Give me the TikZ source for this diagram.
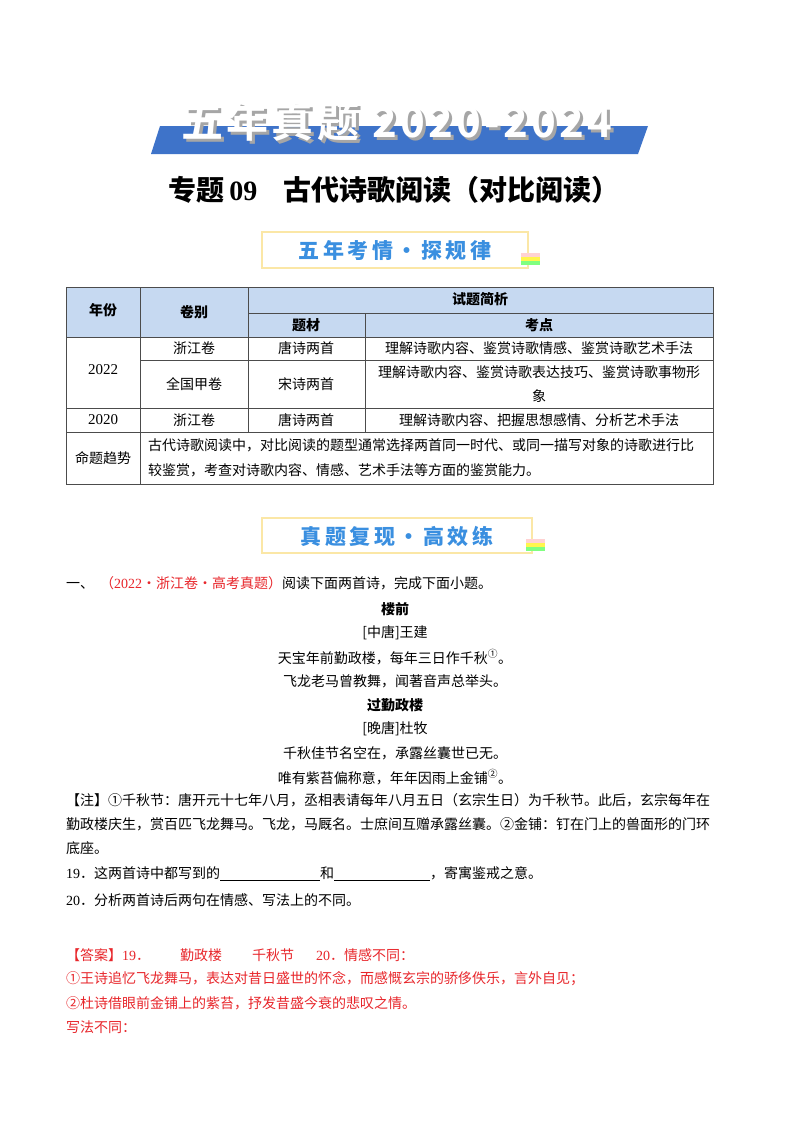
\documentclass[tikz,border=0pt]{standalone}
\usepackage{fontspec}
\setmainfont{Noto Sans CJK SC}
\newfontfamily\numf{Liberation Serif}
\newfontfamily\banf[LetterSpace=8]{Noto Sans CJK SC Bold}
\definecolor{band}{HTML}{3E73C9}
\definecolor{hdr}{HTML}{C6D9F1}
\definecolor{boxb}{HTML}{FBE7A6}
\definecolor{ttl}{HTML}{3A8FE0}
\definecolor{ans}{HTML}{E8262B}
\tikzset{
 body/.style={anchor=west,inner sep=0pt,font=\fontsize{14}{14}\selectfont},
 pc/.style={inner sep=0pt,font=\fontsize{14}{14}\selectfont},
 tb/.style={inner sep=0pt,font=\fontsize{14}{14}\selectfont},
 tl/.style={line width=0.6pt,draw=black!70},
 sbox/.style={draw=boxb,line width=1.2pt,fill=white},
}
\begin{document}
\begin{tikzpicture}[x=1pt,y=-1pt]
\useasboundingbox (0,0) rectangle (800,1132);
\fill[white] (0,0) rectangle (800,1132);
% banner
\fill[band] (160,126) -- (648,126) -- (638,154) -- (151,154) -- cycle;
\node[inner sep=0pt,text=black!35,font=\banf\fontsize{42}{42}\selectfont] at (400,124) {五年真题 2020-2024};
\node[inner sep=0pt,text=white,font=\banf\fontsize{42}{42}\selectfont] (ban) at (397,121) {五年真题 2020-2024};
\node[inner sep=0pt,font=\bfseries\fontsize{28}{28}\selectfont] (tit) at (394,190) {专题\,{\numf\bfseries 09}\hspace{26pt}古代诗歌阅读（对比阅读）};
% box 1
\draw[sbox] (262,232) rectangle (528,268);
\node[inner sep=0pt,text=ttl,font=\bfseries\fontsize{21}{21}\selectfont] (b1) at (395,250) {五\,年\,考\,情\,·\,探\,规\,律};
\foreach \c/\yy in {green!50/265,yellow!70/261,pink!70/257}{\fill[\c] (521,\yy) rectangle (540,\yy-4);}
% table
\fill[hdr] (66,287) rectangle (713,337);
\draw[tl] (66,287) rectangle (713,484);
\draw[tl] (140,287) -- (140,484);
\draw[tl] (248,287) -- (248,432);
\draw[tl] (365,313) -- (365,432);
\draw[tl] (248,313) -- (713,313);
\draw[tl] (66,337) -- (713,337);
\draw[tl] (140,360) -- (713,360);
\draw[tl] (66,408) -- (713,408);
\draw[tl] (66,432) -- (713,432);
\begin{scope}[every node/.style={tb}]
\node[font=\bfseries\fontsize{14}{14}\selectfont] (h1) at (103,310) {年份};
\node[font=\bfseries\fontsize{14}{14}\selectfont] (h2) at (194,312) {卷别};
\node[font=\bfseries\fontsize{14}{14}\selectfont] (h3) at (480,299) {试题简析};
\node[font=\bfseries\fontsize{14}{14}\selectfont] (h4) at (306,325) {题材};
\node[font=\bfseries\fontsize{14}{14}\selectfont] (h5) at (539,325) {考点};
\node (y1) at (103,370) {\numf\fontsize{15}{15}\selectfont 2022};
\node (a1) at (194,348) {浙江卷};
\node (a2) at (306,348) {唐诗两首};
\node (a3) at (539,348) {理解诗歌内容、鉴赏诗歌情感、鉴赏诗歌艺术手法};
\node (b2) at (194,384) {全国甲卷};
\node (b3) at (306,384) {宋诗两首};
\node (b4) at (539,372) {理解诗歌内容、鉴赏诗歌表达技巧、鉴赏诗歌事物形};
\node (b5) at (539,396) {象};
\node (y2) at (103,420) {\numf\fontsize{15}{15}\selectfont 2020};
\node (c1) at (194,420) {浙江卷};
\node (c2) at (306,420) {唐诗两首};
\node (c3) at (539,420) {理解诗歌内容、把握思想感情、分析艺术手法};
\node (d1) at (103,458) {命题趋势};
\node[anchor=west] (d2) at (148,445) {古代诗歌阅读中，对比阅读的题型通常选择两首同一时代、或同一描写对象的诗歌进行比};
\node[anchor=west] (d3) at (148,470) {较鉴赏，考查对诗歌内容、情感、艺术手法等方面的鉴赏能力。};
\end{scope}
% box 2
\draw[sbox] (262,518) rectangle (532,553);
\node[inner sep=0pt,text=ttl,font=\bfseries\fontsize{21}{21}\selectfont] (b2x) at (397,536) {真\,题\,复\,现\,·\,高\,效\,练};
\foreach \c/\yy in {green!50/551,yellow!70/547,pink!70/543}{\fill[\c] (526,\yy) rectangle (545,\yy-4);}
% question
\node[body] (q) at (66,583) {一、\hspace{6pt}\textcolor{ans}{（{\numf 2022}·浙江卷·高考真题）}阅读下面两首诗，完成下面小题。};
\begin{scope}[every node/.style={pc}]
\node[font=\bfseries\fontsize{14}{14}\selectfont] (p1) at (395,609) {楼前};
\node (p2) at (395,633) {[中唐]王建};
\node (p3) at (395,657) {天宝年前勤政楼，每年三日作千秋\textsuperscript{①}。};
\node (p4) at (395,681) {飞龙老马曾教舞，闻著音声总举头。};
\node[font=\bfseries\fontsize{14}{14}\selectfont] (p5) at (395,705) {过勤政楼};
\node (p6) at (395,729) {[晚唐]杜牧};
\node (p7) at (395,753) {千秋佳节名空在，承露丝囊世已无。};
\node (p8) at (395,777) {唯有紫苔偏称意，年年因雨上金铺\textsuperscript{②}。};
\end{scope}
\node[body] (n1) at (66,800) {【注】①千秋节：唐开元十七年八月，丞相表请每年八月五日（玄宗生日）为千秋节。此后，玄宗每年在};
\node[body] (n2) at (66,824) {勤政楼庆生，赏百匹飞龙舞马。飞龙，马厩名。士庶间互赠承露丝囊。②金铺：钉在门上的兽面形的门环};
\node[body] (n3) at (66,848) {底座。};
\node[body] (q19) at (66,874) {{\numf 19}．这两首诗中都写到的\rule[-2pt]{100pt}{0.7pt}和\rule[-2pt]{96pt}{0.7pt}，寄寓鉴戒之意。};
\node[body] (q20) at (66,900) {{\numf 20}．分析两首诗后两句在情感、写法上的不同。};
\begin{scope}[every node/.style={body,text=ans}]
\node (r1) at (66,955) {【答案】{\numf 19}．\hspace{30pt}勤政楼\hspace{30pt}千秋节\hspace{22pt}{\numf 20}．情感不同：};
\node (r2) at (66,979) {①王诗追忆飞龙舞马，表达对昔日盛世的怀念，而感慨玄宗的骄侈佚乐，言外自见；};
\node (r3) at (66,1003) {②杜诗借眼前金铺上的紫苔，抒发昔盛今衰的悲叹之情。};
\node (r4) at (66,1027) {写法不同：};
\end{scope}
\end{tikzpicture}
\end{document}
